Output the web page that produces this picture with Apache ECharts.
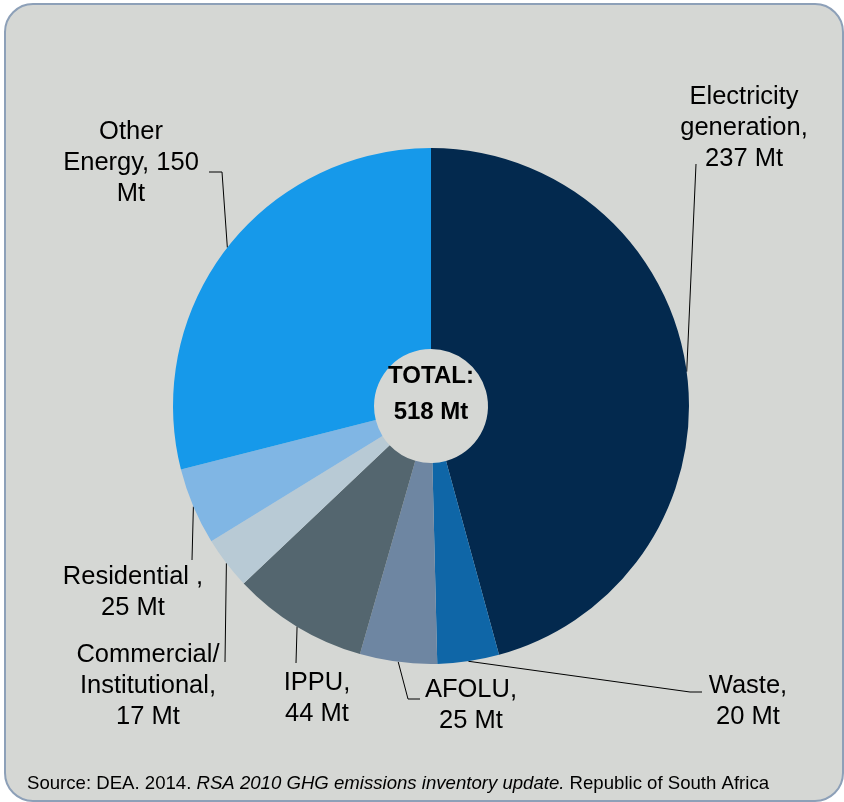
<!DOCTYPE html>
<html>
<head>
<meta charset="utf-8">
<script src="https://cdn.jsdelivr.net/npm/echarts@6/dist/echarts.min.js"></script>
<style>
  html, body { margin: 0; padding: 0; background: #ffffff; }
  #chart { width: 844px; height: 802px; }
</style>
</head>
<body>
<div id="chart"></div>
<script>
// South Africa GHG emissions by sector, 2010 (Mt CO2e)
const categories = ['Electricity generation', 'Waste', 'AFOLU', 'IPPU',
  'Commercial/Institutional', 'Residential', 'Other Energy'];
const emissions = [237, 20, 25, 44, 17, 25, 150];
const labelFormats = [
  'Electricity\ngeneration,\n{v} Mt',
  'Waste,\n{v} Mt',
  'AFOLU,\n{v} Mt',
  'IPPU,\n{v} Mt',
  'Commercial/\nInstitutional,\n{v} Mt',
  'Residential ,\n{v} Mt',
  'Other\nEnergy, {v}\nMt'
];
const sliceColors = ['#03294E', '#0F66A7', '#6E86A2', '#54666F', '#B8CAD5', '#80B6E4', '#1699EA'];

const total = emissions.reduce((a, b) => a + b, 0);

// Label centre and leader-line bends, as offsets from the label centre
const labelSpots = [
  { x: 744, y: 128, bends: [[-48, 36]] },
  { x: 748, y: 701, bends: [[-58, -9], [-46, -9]] },
  { x: 471, y: 705, bends: [[-63, -6], [-51, -6]] },
  { x: 317, y: 698, bends: [[-21, -35]] },
  { x: 148, y: 686, bends: [[77, -24]] },
  { x: 133, y: 592, bends: [[59, -32]] },
  { x: 131, y: 163, bends: [[91, 9], [78, 9]] }
];

const FONT = '"Liberation Sans", Arial, Helvetica, sans-serif';
const chart = echarts.init(document.getElementById('chart'), null, { renderer: 'canvas' });

chart.setOption({
  animation: false,
  backgroundColor: '#ffffff',
  graphic: [
    {
      type: 'rect', z: -10, silent: true,
      shape: { x: 5, y: 4, width: 838, height: 797, r: 28 },
      style: { fill: '#D5D7D4', stroke: '#8DA0B8', lineWidth: 2 }
    },
    {
      type: 'text', z: 10, silent: true,
      style: {
        x: 431, y: 394, align: 'center', verticalAlign: 'middle',
        text: 'TOTAL:\n' + total + ' Mt',
        font: 'bold 24px ' + FONT, lineHeight: 36, fill: '#000000'
      }
    },
    {
      type: 'text', z: 10, silent: true,
      style: {
        x: 27, y: 784, align: 'left', verticalAlign: 'middle',
        text: 'Source: DEA. 2014. {i|RSA 2010 GHG emissions inventory update.} Republic of South Africa',
        font: '18.6px ' + FONT, fill: '#000000',
        rich: { i: { fontStyle: 'italic', fontSize: 18.6, fontFamily: FONT, fill: '#000000' } }
      }
    }
  ],
  series: [{
    type: 'pie',
    center: [431, 406],
    radius: [57, 258],
    startAngle: 90,
    clockwise: true,
    avoidLabelOverlap: false,
    itemStyle: { borderWidth: 0 },
    emphasis: { disabled: true },
    data: categories.map((name, i) => ({
      name: name, value: emissions[i], itemStyle: { color: sliceColors[i] }
    })),
    label: {
      show: true,
      position: 'outer',
      color: '#000000',
      fontFamily: FONT,
      fontSize: 25.5,
      lineHeight: 31,
      formatter: p => labelFormats[p.dataIndex].replace('{v}', p.value)
    },
    labelLine: {
      show: true, length: 5, length2: 5, smooth: false,
      lineStyle: { color: '#000000', width: 1 }
    },
    labelLayout: function (params) {
      const spot = labelSpots[params.dataIndex];
      const start = params.labelLinePoints ? params.labelLinePoints[0] : [spot.x, spot.y];
      const pts = [start].concat(spot.bends.map(b => [spot.x + b[0], spot.y + b[1]]));
      while (pts.length < 3) pts.push(pts[pts.length - 1].slice());
      return {
        x: spot.x, y: spot.y,
        align: 'center', verticalAlign: 'middle',
        labelLinePoints: pts
      };
    }
  }]
});
</script>
</body>
</html>
